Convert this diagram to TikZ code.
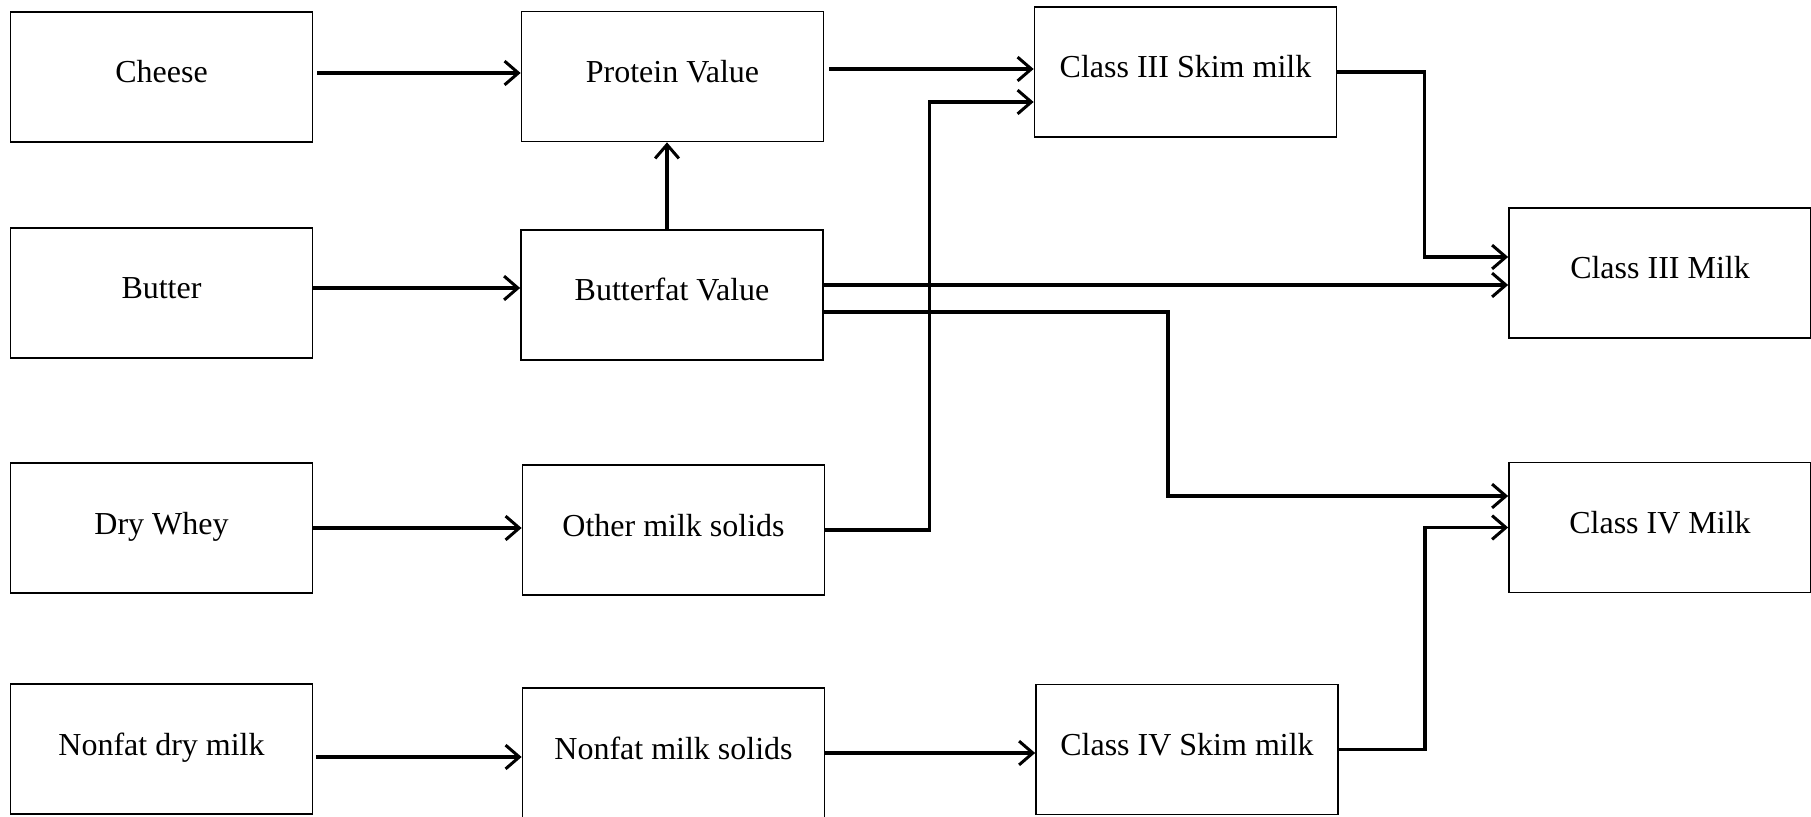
\documentclass[tikz,border=0pt]{standalone}
\usepackage{fontspec}
\setmainfont{Liberation Serif}
\usetikzlibrary{arrows.meta,calc}
\tikzset{
  box/.style={draw, line width=0.7pt, minimum width=120.8pt, minimum height=52pt,
    inner sep=0pt, text height=0.7em, text depth=0.22em, font=\fontsize{12.8}{15}\selectfont},
  arr/.style={line width=1.3pt, -{Straight Barb[length=5.5pt,width=9.5pt,line width=1.2pt]}},
}
\begin{document}
\begin{tikzpicture}[x=0.4pt, y=-0.4pt]
  \useasboundingbox (0,0) rectangle (1811,817);
  \clip (0,0) rectangle (1811,817);
  % products
  \foreach \n/\y/\t in {cheese/77/Cheese, butter/293/Butter, whey/528/Dry Whey, nonfatdry/749/Nonfat dry milk}{
    \node[box] (\n) at (161.5,\y) {\t};
  }
  % component values
  \foreach \n/\x/\y/\t in {protein/672.5/76.5/Protein Value, butterfat/672/295/Butterfat Value,
      othersolids/673.5/530/Other milk solids, nonfatsolids/673.5/753/Nonfat milk solids}{
    \node[box] (\n) at (\x,\y) {\t};
  }
  % skim and class prices
  \node[box] (skimthree) at (1185.5,72) {Class III Skim milk};
  \node[box] (skimfour) at (1187,749.5) {Class IV Skim milk};
  \node[box] (milkthree) at (1660,273) {Class III Milk};
  \node[box] (milkfour) at (1660,527.5) {Class IV Milk};
  % entry points
  \coordinate (sk3a) at ($(skimthree.west)+(0,-3)$);
  \coordinate (sk3b) at ($(skimthree.west)+(0,30)$);
  \coordinate (m3a) at ($(milkthree.west)+(0,-16)$);
  \coordinate (m3b) at ($(milkthree.west)+(0,12)$);
  \coordinate (m4a) at ($(milkfour.west)+(0,-31.5)$);
  \coordinate (bf4) at ($(butterfat.east)+(0,17)$);
  % connectors
  \draw[arr, shorten <=1.5pt] ([yshift=1.6pt]cheese.east) -- ([yshift=1.6pt]cheese.east -| protein.west);
  \draw[arr] ([yshift=2pt]butter.east) -- ([yshift=2pt]butter.east -| butterfat.west);
  \draw[arr] (whey.east) -- (whey.east -| othersolids.west);
  \draw[arr, shorten <=1pt] ([yshift=-3.2pt]nonfatdry.east) -- ([yshift=-3.2pt]nonfatdry.east -| nonfatsolids.west);
  \draw[arr] ([xshift=-2pt]butterfat.north) -- ([xshift=-2pt]butterfat.north |- protein.south);
  \draw[arr, shorten <=2pt] (protein.east |- sk3a) -- (sk3a);
  \draw[arr] (othersolids.east) -- ++(104,0) |- (sk3b);
  \draw[arr] (butterfat.east |- m3b) -- (m3b);
  \draw[arr] (bf4) -- ++(344,0) |- (m4a);
  \draw[arr] (skimthree.east) -- ++(87,0) |- (m3a);
  \draw[arr] (nonfatsolids.east) -- (nonfatsolids.east -| skimfour.west);
  \draw[arr] (skimfour.east) -- ++(86,0) |- (milkfour.west);
\end{tikzpicture}
\end{document}
